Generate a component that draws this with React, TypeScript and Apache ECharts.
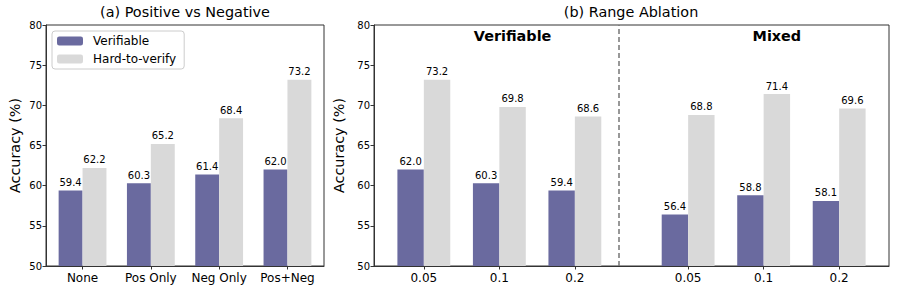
import React, { useEffect, useRef } from "react";
import * as echarts from "echarts";

// ---- data ----
const seriesNames = ["Verifiable", "Hard-to-verify"];

const leftTitle = "(a) Positive vs Negative";
const leftCategories = ["None", "Pos Only", "Neg Only", "Pos+Neg"];
const leftVerifiable = [59.4, 60.3, 61.4, 62.0];
const leftHard = [62.2, 65.2, 68.4, 73.2];

const rightTitle = "(b) Range Ablation";
const rightCategories = ["0.05", "0.1", "0.2", "0.05", "0.1", "0.2"];
const rightVerifiable = [62.0, 60.3, 59.4, 56.4, 58.8, 58.1];
const rightHard = [73.2, 69.8, 68.6, 68.8, 71.4, 69.6];
const rightGroups = ["Verifiable", "Mixed"];

const yMin = 50;
const yMax = 80;
const yInterval = 5;
const yName = "Accuracy (%)";

// ---- layout (x positions along the category axis) ----
const leftPos = [0, 1, 2, 3];
const rightPos = [0, 1, 2, 3.5, 4.5, 5.5];
const dividerX = 2.75;
const groupCenters = [1, 4.5];
const groupLabelY = 78.6;

const COLOR_V = "#6a6a9f";
const COLOR_H = "#d9d9d9";
const AXIS_COLOR = "#333";
const FONT = "DejaVu Sans";

function xRange(pos: number[]) {
  const lo = pos[0] - 0.35;
  const hi = pos[pos.length - 1] + 0.35;
  const m = (hi - lo) * 0.05;
  return [lo - m, hi + m];
}

function labelFor(pos: number[], cats: string[]) {
  return (v: number) => {
    const i = pos.findIndex((p) => Math.abs(p - v) < 1e-6);
    return i >= 0 ? cats[i] : "";
  };
}

export default function App() {
  const ref = useRef<HTMLDivElement>(null);

  useEffect(() => {
    document.body.style.margin = "0";
    if (!ref.current) return;
    const chart = echarts.init(ref.current, null, { renderer: "svg" });

    const [lMin, lMax] = xRange(leftPos);
    const [rMin, rMax] = xRange(rightPos);

    const xAxisBase = (gridIndex: number, min: number, max: number, pos: number[], cats: string[]) => ({
      type: "value",
      gridIndex,
      min,
      max,
      splitLine: { show: false },
      axisLine: { show: true, onZero: false, lineStyle: { color: AXIS_COLOR, width: 1 } },
      axisTick: { show: true, customValues: pos, length: 3.5, lineStyle: { color: AXIS_COLOR } },
      axisLabel: {
        show: true,
        customValues: pos,
        formatter: labelFor(pos, cats),
        fontSize: 12,
        color: "#000",
        fontFamily: FONT,
        margin: 6,
      },
    });

    const yAxisBase = (gridIndex: number) => ({
      type: "value",
      gridIndex,
      min: yMin,
      max: yMax,
      interval: yInterval,
      splitLine: { show: false },
      axisLine: { show: true, onZero: false, lineStyle: { color: AXIS_COLOR, width: 1 } },
      axisTick: { show: true, length: 3.5, lineStyle: { color: AXIS_COLOR } },
      axisLabel: { fontSize: 10, color: "#000", fontFamily: FONT, margin: 4 },
      name: yName,
      nameLocation: "middle",
      nameGap: 24,
      nameTextStyle: { fontSize: 14.4, color: "#000", fontFamily: FONT },
    });

    const labelStyle = {
      show: true,
      position: "top",
      distance: 3,
      fontSize: 10,
      color: "#000",
      fontFamily: FONT,
      formatter: (p: any) => Number(p.value[1]).toFixed(1),
    };

    const barSeries = (
      name: string,
      idx: number,
      pos: number[],
      vals: number[],
      color: string,
      extra: any = {}
    ) => ({
      type: "bar",
      name,
      xAxisIndex: idx,
      yAxisIndex: idx,
      data: pos.map((p, i) => [p, vals[i]]),
      barWidth: "35%",
      barGap: "0%",
      itemStyle: { color },
      label: labelStyle,
      ...extra,
    });

    const option: any = {
      animation: false,
      textStyle: { fontFamily: FONT },
      title: [
        {
          text: leftTitle,
          left: 185,
          top: 5,
          textAlign: "center",
          padding: 0,
          textStyle: { fontSize: 14.4, fontWeight: "normal", color: "#000", fontFamily: FONT },
        },
        {
          text: rightTitle,
          left: 631,
          top: 5,
          textAlign: "center",
          padding: 0,
          textStyle: { fontSize: 14.4, fontWeight: "normal", color: "#000", fontFamily: FONT },
        },
      ],
      legend: {
        data: seriesNames,
        orient: "vertical",
        left: 52,
        top: 31,
        itemWidth: 26,
        itemHeight: 9,
        itemGap: 6,
        padding: [4, 8, 4, 5],
        borderColor: "#ccc",
        borderWidth: 1,
        borderRadius: 3,
        backgroundColor: "#fff",
        textStyle: { fontSize: 12, color: "#000", fontFamily: FONT, padding: [0, 0, 0, 5] },
        selectedMode: false,
      },
      grid: [
        { left: 46, right: 897 - 324, top: 25, bottom: 28, show: true, borderColor: AXIS_COLOR, borderWidth: 1 },
        { left: 374, right: 8, top: 25, bottom: 28, show: true, borderColor: AXIS_COLOR, borderWidth: 1 },
      ],
      xAxis: [
        xAxisBase(0, lMin, lMax, leftPos, leftCategories),
        xAxisBase(1, rMin, rMax, rightPos, rightCategories),
      ],
      yAxis: [yAxisBase(0), yAxisBase(1)],
      series: [
        barSeries(seriesNames[0], 0, leftPos, leftVerifiable, COLOR_V),
        barSeries(seriesNames[1], 0, leftPos, leftHard, COLOR_H),
        barSeries(seriesNames[0], 1, rightPos, rightVerifiable, COLOR_V, {
          markLine: {
            silent: true,
            symbol: ["none", "none"],
            label: { show: false },
            lineStyle: { type: [5, 3], color: "#777", width: 1.5 },
            data: [{ xAxis: dividerX }],
          },
        }),
        barSeries(seriesNames[1], 1, rightPos, rightHard, COLOR_H, {
          markPoint: {
            silent: true,
            symbol: "circle",
            symbolSize: 1,
            itemStyle: { color: "rgba(0,0,0,0)" },
            label: {
              show: true,
              position: "inside",
              formatter: "{b}",
              fontSize: 14.4,
              fontWeight: "bold",
              color: "#000",
              fontFamily: FONT,
            },
            data: rightGroups.map((g, i) => ({ name: g, coord: [groupCenters[i], groupLabelY] })),
          },
        }),
      ],
    };

    chart.setOption(option);
    return () => chart.dispose();
  }, []);

  return <div ref={ref} style={{ width: 897, height: 294 }} />;
}
